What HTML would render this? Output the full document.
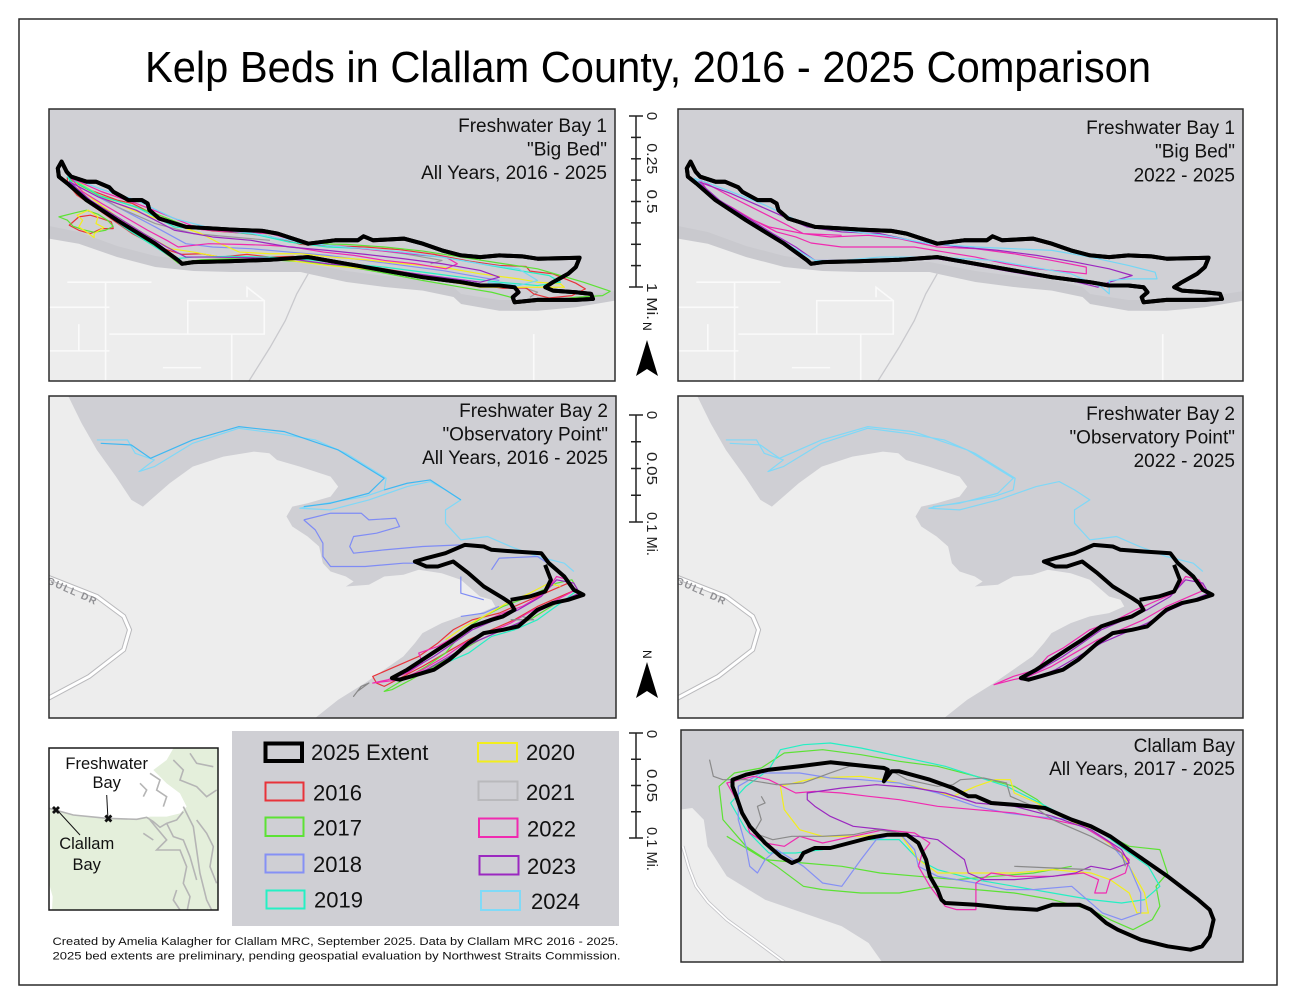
<!DOCTYPE html>
<html><head><meta charset="utf-8"><style>
html,body{margin:0;padding:0;background:#fff;}
svg{display:block;font-family:"Liberation Sans",Arial,sans-serif;}
.ln path{fill:none;stroke-width:1.2;vector-effect:non-scaling-stroke;stroke-linejoin:round;}
.rd path{fill:none;vector-effect:non-scaling-stroke;}
</style></head><body>
<svg width="1296" height="1001" viewBox="0 0 1296 1001" xmlns="http://www.w3.org/2000/svg">
<defs>
<clipPath id="c1"><rect x="49" y="109" width="566" height="272"/></clipPath>
<clipPath id="c2"><rect x="678" y="109" width="565" height="272"/></clipPath>
<clipPath id="c3"><rect x="49" y="396" width="567" height="322"/></clipPath>
<clipPath id="c4"><rect x="678" y="396" width="565" height="322"/></clipPath>
<clipPath id="c6"><rect x="681" y="730" width="562" height="232"/></clipPath>
<clipPath id="ci"><rect x="49" y="748" width="169" height="162"/></clipPath>

<g id="base1">
<rect x="49" y="109" width="566" height="272" fill="#d0d0d5"/>
<path d="M49,226 L78.8,232 L117,246 L155.3,256 L193.5,261 L231.7,262 L300.6,262 L346.4,271 L384.7,276 L422.9,280 L453.5,287 L461.1,294 L499.3,300 L537.6,300 L575.8,297 L615,291 L615,381 L49,381 Z" fill="#c9c9ce"/>
<path d="M49,238.6 L78.8,243.7 L117,257 L155.3,267 L193.5,271 L231.7,272 L270,272 L300.6,272 L308.2,273.8 L346.4,282 L384.7,287 L422.9,290.6 L453.5,297 L461.1,304 L499.3,310.7 L537.6,310.7 L575.8,307.3 L615,300.6 L615,381 L49,381 Z" fill="#ededed"/>
<g class="rd" transform="translate(40.59,99.62) scale(0.3823,0.335)">
<path d="M70,545 L290,545 M170,545 L170,840 M22,620 L180,620 M100,670 L100,750 M385,600 L585,600 L585,700 L385,700 Z M585,600 L540,560 L540,590 M500,700 L500,840 M180,700 L500,700 M320,800 L420,800 M1290,700 L1290,840 M22,750 L180,750" stroke="#fafafa" stroke-width="1.6"/>
<path d="M700,520 L670,580 L640,660 L600,740 L545,840" stroke="#c9c9cd" stroke-width="1.3"/>
</g>
<path d="M61.6,161.6 L66.6,171.6 L71.2,176.7 L86.5,181.7 L96,181.7 L109.4,187.4 L113.2,191.7 L128.5,200.1 L141.9,200.1 L147.6,203.5 L149.5,210.2 L159.1,218.5 L185.9,226.9 L231.7,229.6 L262.3,230.9 L277.6,233.6 L308.2,243.7 L335,240.3 L357.9,240.3 L363.6,236.3 L373.2,240.3 L403.8,238.6 L422.9,243.7 L442,250.4 L461.1,255.4 L480.2,257.1 L499.3,255.4 L522.3,256.4 L537.6,258.7 L579.6,257.7 L575.8,267.1 L568.2,273.8 L552.9,282.2 L545.2,287.2 L552.9,290.6 L575.8,292.2 L591.1,293.9 L593,298.9 L575.8,299.9 L537.6,299.9 L514.6,302.3 L512.7,297.3 L518.5,292.2 L514.6,287.2 L499.3,285.5 L480.2,285.5 L461.1,282.2 L422.9,277.2 L384.7,270.5 L346.4,263.8 L308.2,257.1 L270,259.8 L231.7,261.1 L193.5,262.1 L182,263.8 L178.2,260.4 L155.3,243.7 L117,220.2 L86.5,200.1 L67.4,183.4 L58.9,176.7 L57.8,168.3 Z" id="out1" fill="none" stroke="#000" stroke-width="4" stroke-linejoin="round"/>
</g>

<g id="base3">
<rect x="49" y="396" width="567" height="322" fill="#cfcfd4"/>
<path d="M49,396 L68.2,396 L81.6,423.3 L96.9,450 L116,476.6 L131.4,499.9 L142.9,506.6 L154.4,496.6 L169.7,483.2 L192.7,466.6 L223.3,456.6 L254,451.6 L269.3,453.3 L277,460 L299.9,466.6 L330.6,476.6 L338.2,486.6 L330.6,496.6 L307.6,503.2 L292.3,506.6 L286.5,516.5 L292.3,526.5 L307.6,536.5 L319.1,546.5 L322.9,563.2 L330.6,571.5 L345.9,576.5 L353.6,581.5 L345.9,586.5 L368.9,584.8 L384.2,576.5 L403.4,574.8 L418.7,569.8 L441.7,573.2 L460.8,579.8 L472.3,589.8 L480,596.5 L491.5,599.8 L495.3,606.5 L480,613.1 L460.8,616.4 L441.7,623.1 L422.5,633.1 L414.9,643.1 L403.4,656.4 L384.2,669.7 L365.1,683 L338.2,699.7 L315.2,718 L49,718 Z" fill="#ededed"/>
<path d="M40,574 L96.9,596.5 L123.7,616.4 L129.5,629.8 L123.7,649.7 L89.2,676.4 L45,700" fill="none" stroke="#b9b9bc" stroke-width="5"/>
<path d="M40,574 L96.9,596.5 L123.7,616.4 L129.5,629.8 L123.7,649.7 L89.2,676.4 L45,700" fill="none" stroke="#ffffff" stroke-width="3"/>
<text x="0" y="0" transform="translate(46,583) rotate(24)" font-size="10" fill="#8f8f93" letter-spacing="1.5" font-weight="bold">GULL DR</text>
</g>
</defs>

<rect x="0" y="0" width="1296" height="1001" fill="#fff"/>
<rect x="19" y="19" width="1258" height="966" fill="none" stroke="#2a2a2a" stroke-width="1.5"/>

<text x="648" y="82" text-anchor="middle" font-size="44" fill="#000" textLength="1006" lengthAdjust="spacingAndGlyphs">Kelp Beds in Clallam County, 2016 - 2025 Comparison</text>

<!-- Panel 1 -->
<g clip-path="url(#c1)">
<use href="#base1"/>
<g class="ln" transform="translate(40.59,99.62) scale(0.3823,0.335)">
<path stroke="#8590f5" d="M100,260 L200,320 L300,380 L380,430 L450,440 L550,445 L650,455 L750,465 L850,480 L950,495 L1050,510 L1150,530 L1200,540"/>
<path stroke="#999" d="M100,250 L200,320 L300,370 L400,400 L500,410 L600,420 M950,460 L1000,470 L1050,480 L1020,490 M1260,560 L1300,575 L1280,590"/>
<path stroke="#e8333a" d="M70,232 L130,270 L200,300 L240,310 L300,345 L380,380 L450,392 L520,398 L600,408 L680,432 L760,436 L850,440 L940,448 L1030,462 L1120,482 L1200,495 L1270,498 L1280,512 L1340,520 L1400,548 L1425,565 L1390,585 L1330,592 L1290,580 L1270,562 L1210,563 L1140,552 L1060,535 L980,520 L900,505 L820,492 L740,478 L660,468 L600,470 L540,462 L470,470 L420,460 L370,462 L330,448 L290,430 L240,400 L190,360 L140,320 L95,285 L70,250 Z M75,375 L100,350 L130,345 L160,355 L185,365 L190,385 L160,385 L130,400 L100,390 Z"/>
<path stroke="#5ce234" d="M75,238 L150,285 L220,310 L300,340 L400,385 L500,395 L620,402 L700,430 L800,432 L900,440 L1000,452 L1100,470 L1200,488 L1300,505 L1360,525 L1420,545 L1490,572 L1470,585 L1400,590 L1330,600 L1240,605 L1230,590 L1180,575 L1100,560 L1000,540 L900,518 L800,498 L700,485 L600,478 L500,475 L420,478 L360,488 L340,470 L290,430 L230,385 L170,340 L120,305 L85,270 Z M48,350 L90,338 L120,330 L150,342 L175,360 L190,378 L170,390 L140,396 L110,388 L85,378 L70,360 Z"/>
<path stroke="#f2ee1e" d="M90,240 L160,290 L240,330 L330,365 L420,400 L470,430 L520,455 L600,460 L680,460 L760,470 L850,478 L950,490 L1050,500 L1150,520 L1250,535 L1300,545 L1360,550 L1370,560 L1330,560 L1250,560 L1150,560 L1050,540 L950,520 L850,505 L750,495 L650,480 L560,470 L470,470 L400,455 L340,445 L270,400 L200,350 L140,300 L100,265 Z M95,345 L125,330 L150,350 L145,370 L165,382 L140,400 L140,412 L120,395 L100,380 L110,360 Z"/>
<path stroke="#24f0c4" d="M70,230 L160,290 L250,320 L350,380 L450,390 L560,402 L650,425 L750,440 L850,445 L950,460 L1050,470 L1150,490 L1250,510 L1330,525 L1360,545 L1300,555 L1200,545 L1100,530 L1000,515 L900,500 L800,490 L700,478 L600,470 L500,468 L400,470 L350,475 L300,440 L230,390 L170,340 L110,290 Z"/>
<path stroke="#f02ab0" d="M80,235 L160,275 L250,310 L340,350 L420,388 L500,395 L600,400 L700,430 L800,440 L880,450 L960,460 L1060,470 L1090,490 L1060,505 L980,490 L900,480 L820,465 L740,455 L660,440 L600,435 L520,432 L440,430 L360,440 L330,420 L280,390 L220,350 L160,310 L110,275 Z"/>
<path stroke="#9b28c0" d="M75,245 L150,290 L250,330 L350,390 L450,410 L550,420 L650,440 L750,450 L850,462 L950,475 L1050,490 L1150,510 L1200,530 L1150,545 L1050,530 L950,515 L850,500 L750,490 L650,475 L550,472 L450,470 L380,470 L330,440 L270,400 L200,350 L130,300 Z"/>
<path stroke="#74d7f5" d="M70,228 L160,268 L250,300 L350,355 L450,385 L560,400 L650,420 L750,435 L850,445 L950,455 L1050,470 L1150,490 L1250,505 L1300,540 L1250,555 L1170,545 L1180,560"/>
</g>
<use href="#out1"/>
</g>
<rect x="49" y="109" width="566" height="272" fill="none" stroke="#2d2d2d" stroke-width="1.5"/>
<g font-size="19" text-anchor="end" fill="#111">
<text x="607" y="132">Freshwater Bay 1</text>
<text x="607" y="155.5">"Big Bed"</text>
<text x="607" y="179">All Years, 2016 - 2025</text>
</g>

<!-- Panel 2 -->
<g clip-path="url(#c2)">
<use href="#base1" transform="translate(629,0)"/>
<g class="ln" transform="translate(669.59,99.62) scale(0.3823,0.335)">
<path stroke="#f02ab0" d="M80,240 L160,290 L230,330 L300,370 L350,400 L420,410 L520,405 L600,415 L700,440 L800,445 L900,460 L1000,480 L1090,500 L1090,520 L1050,515 L960,505 L880,490 L800,470 L720,455 L640,440 L540,440 L450,440 L370,428 L330,410 L280,395 L220,360 L160,320 L110,290 Z M200,350 L260,380 L350,400 L450,405"/>
<path stroke="#9b28c0" d="M75,245 L160,280 L260,330 L360,380 L450,395 L550,400 L650,425 L760,440 L860,450 L960,465 L1060,485 L1150,505 L1210,525 L1150,545 L1120,560 L1050,540 L950,525 L850,505 L780,490 L740,482 L700,475 L600,480 L500,480 L380,480 L330,440 L270,400 L200,350 L130,300 Z"/>
<path stroke="#74d7f5" d="M65,235 L150,270 L250,315 L350,370 L450,390 L560,405 L680,430 L800,440 L900,445 L1000,450 L1100,470 L1200,495 L1270,515 L1275,535 L1200,535 L1150,540 L1150,580 L1130,560 L1050,520 L950,500 L850,480 L700,470 L550,470 L450,480 L380,480 L320,440 L250,390 L180,350 L120,300 Z"/>
</g>
<use href="#out1" transform="translate(629,0)"/>
</g>
<rect x="678" y="109" width="565" height="272" fill="none" stroke="#2d2d2d" stroke-width="1.5"/>
<g font-size="19" text-anchor="end" fill="#111">
<text x="1235" y="134">Freshwater Bay 1</text>
<text x="1235" y="157.5">"Big Bed"</text>
<text x="1235" y="181.5">2022 - 2025</text>
</g>

<!-- Panel 3 -->
<g clip-path="url(#c3)">
<use href="#base3"/>
<g class="ln" transform="translate(39.42,390.01) scale(0.3831,0.333)">
<path stroke="#7fd8f7" d="M150,150 L230,150 L250,190 L300,210 L260,245 L300,230 L400,160 L520,115 L620,130 L720,150 L800,190 L870,240 L905,265 L900,300 L850,320 L700,350 L680,355 L760,360 L860,330 L960,290 L1020,275 L1060,300 L1100,330 L1060,360 L1060,400 L1100,450 L1170,440 L1230,470 L1300,500 L1370,520 L1395,545"/>
<path stroke="#3fb8f2" d="M160,160 L240,165 L290,205 L400,150 L520,110 L640,125 L780,180 L900,265 L860,310 L760,340 L690,350 M900,300 L960,280 L1020,270 L1100,330"/>
<path stroke="#7f8cf5" d="M690,390 L760,370 L840,370 L860,390 L930,385 L940,410 L880,430 L820,440 L810,470 L820,490 L900,480 L1000,470 L1100,465 M690,390 L720,420 L740,460 L740,500 L760,530 L850,530 L950,520 L1000,520 M1100,560 L1100,610 L1160,630 M1180,540 L1200,505 L1300,500 L1340,530 M1100,680 L1160,670 L1200,650"/>
<path stroke="#e8333a" d="M870,860 L930,830 L990,800 L1040,760 L1080,720 L1130,690 L1200,670 L1260,640 L1340,600 L1380,580 L1400,600 L1360,620 L1300,650 L1240,690 L1180,720 L1120,750 L1060,790 L1000,830 L950,860 L900,890 L880,880 Z"/>
<path stroke="#5ce234" d="M900,905 L950,870 L1010,830 L1060,790 L1110,720 L1160,680 L1210,650 L1280,620 L1350,580 L1390,570 L1410,610 L1350,640 L1280,690 L1210,720 L1150,750 L1090,790 L1030,830 L970,870 L920,900 Z"/>
<path stroke="#f2ee1e" d="M1060,750 L1110,710 L1160,680 L1220,640 L1280,610 L1330,580 L1360,590"/>
<path stroke="#24f0c4" d="M1000,850 L1060,820 L1120,790 L1180,740 L1240,720 L1300,690 L1360,640 L1400,605"/>
<path stroke="#f02ab0" d="M870,880 L910,870 L960,850 L1000,820 L990,790 L1040,770 L1100,730 L1150,700 L1210,670 L1260,650 L1320,610 L1350,560 L1380,570 L1400,600 L1350,630 L1290,660 L1230,700 L1170,730 L1110,760 L1060,800 L1000,840 L940,870 Z"/>
<path stroke="#9b28c0" d="M920,870 L970,840 L1030,800 L1080,760 L1130,720 L1190,690 L1250,660 L1310,620 L1350,570 L1395,580 L1410,610 L1370,630 L1310,660 L1250,700 L1190,730 L1130,760 L1070,800 L1010,840 L950,870 Z"/>
<path stroke="#888" d="M820,920 L840,890 L860,880 L830,905 Z M1230,690 L1290,690 L1260,680"/>
</g>
<g fill="none" stroke="#000" stroke-width="4" stroke-linejoin="round" id="out3">
<path d="M414.9,561.5 L426.4,558.2 L445.5,553.2 L464.7,544.9 L483.8,546.5 L491.5,549.8 L514.5,551.5 L541.3,553.2 L548.9,563.2 L564.3,576.5 L573.8,589.8 L583.4,594.8 L568.1,599.8 L552.8,603.1 L537.5,609.8 L526,619.8 L518.3,626.4 L503,629.8 L483.8,633.1 L468.5,643.1 L457,653.1 L449.3,659.7 L434,669.7 L411,676.4 L399.5,679.7 L391.9,678 L407.2,669.7 L422.5,659.7 L437.8,649.7 L453.2,639.8 L472.3,626.4 L491.5,619.8 L503,616.4 L514.5,609.8 L510.6,603.1 L503,598.1 L483.8,586.5 L468.5,573.2 L453.2,561.5 L437.8,566.5 L426.4,566.5 L418.7,563.2 Z"/>
<path d="M510.6,599.8 L529.8,596.5 L545.1,591.5 L550.9,579.8 L545.1,564.9"/>
</g>
</g>
<rect x="49" y="396" width="567" height="322" fill="none" stroke="#2d2d2d" stroke-width="1.5"/>
<g font-size="19" text-anchor="end" fill="#111">
<text x="608" y="417">Freshwater Bay 2</text>
<text x="608" y="440.5">"Observatory Point"</text>
<text x="608" y="464">All Years, 2016 - 2025</text>
</g>

<!-- Panel 4 -->
<g clip-path="url(#c4)">
<use href="#base3" transform="translate(629,0)"/>
<g class="ln" transform="translate(668.42,390.01) scale(0.3831,0.333)">
<path stroke="#7fd8f7" d="M150,150 L230,150 L250,190 L300,210 L260,245 L300,230 L400,160 L520,115 L620,130 L720,150 L800,190 L870,240 L905,265 L900,300 L850,320 L700,350 L680,355 L760,360 L860,330 L960,290 L1020,275 L1060,300 L1100,330 L1060,360 L1060,400 L1100,450 L1170,440 L1230,470 L1300,500 L1370,520 L1395,545 M160,160 L240,165 L290,205 L400,150 L520,110 L640,125 L780,180 L900,265 L860,310 L760,340 L690,350"/>
<path stroke="#f02ab0" d="M850,885 L900,860 L960,840 L990,800 L1030,775 L1100,720 L1170,690 L1220,660 L1260,640 L1320,610 L1350,560 L1385,570 L1400,600 L1360,620 L1300,650 L1240,690 L1180,720 L1120,750 L1060,790 L1000,830 L940,860 L900,870 Z"/>
<path stroke="#9b28c0" d="M920,870 L970,840 L1030,800 L1080,760 L1130,720 L1190,690 L1250,660 L1310,620 L1350,570 L1395,580 L1410,610 L1370,630 L1310,660 L1250,700 L1190,730 L1130,760 L1070,800 L1010,840 L950,870 Z"/>
</g>
<use href="#out3" transform="translate(629,0)"/>
</g>
<rect x="678" y="396" width="565" height="322" fill="none" stroke="#2d2d2d" stroke-width="1.5"/>
<g font-size="19" text-anchor="end" fill="#111">
<text x="1235" y="420">Freshwater Bay 2</text>
<text x="1235" y="443.5">"Observatory Point"</text>
<text x="1235" y="467">2022 - 2025</text>
</g>

<!-- Panel 6 Clallam Bay -->
<g clip-path="url(#c6)">
<rect x="681" y="730" width="562" height="232" fill="#cfcfd4"/>
<path d="M680,809.7 L692.3,808 L703.8,819.7 L707.6,846.3 L726.8,876.3 L765.1,899.7 L803.4,913 L841.8,926.3 L868.6,943 L882,962 L680,962 Z" fill="#ededed"/>
<path d="M682.7,846.3 L689,868 L696.1,886.3 L708,902 L726.8,919.7 L752,938 L784.3,962" fill="none" stroke="#c4c4c8" stroke-width="3.5"/>
<path d="M682.7,846.3 L689,868 L696.1,886.3 L708,902 L726.8,919.7 L752,938 L784.3,962" fill="none" stroke="#fff" stroke-width="1.8"/>
<g class="ln" transform="translate(669.27,719.67) scale(0.3833,0.3333)">
<path stroke="#5ce234" d="M130,200 L170,160 L240,145 L300,100 L400,90 L500,105 L600,125 L700,140 L800,170 L900,200 L960,240 L1000,280 L1100,320 L1200,380 L1280,390 L1300,460 L1270,500 L1280,560 L1260,600 L1210,630 L1150,600 L1100,570 L1000,540 L900,520 L800,510 L700,500 L600,520 L500,520 L400,510 L350,500 L280,440 L200,380 L140,300 Z M150,350 L250,420 L350,430 L450,440 L550,460 L650,470 L750,480 L850,470 L950,460 L1050,440"/>
<path stroke="#24f0c4" d="M290,90 L350,75 L420,70 L500,85 L560,100 L640,120 L720,140 L800,170 L880,200 L950,240 L1050,300 L1130,340 L1200,400 L1250,440 L1280,500 L1240,540 L1180,550 L1100,540 L1000,520 L900,500 L800,480 L700,450 L650,420 L600,360 L500,360 L400,390 L330,400 L260,400 L200,330 L160,250 L200,200 L260,150 Z"/>
<path stroke="#f2ee1e" d="M290,200 L380,175 L500,170 L560,180 L640,200 L740,230 L800,200 L850,180 L890,180 L900,220 L960,250 L1000,280 L1100,330 L1180,400 L1200,440 L1220,480 L1240,520 L1250,580 L1220,580 L1200,520 L1150,480 L1100,460 L1000,450 L900,460 L800,460 L700,460 L650,420 L600,340 L500,350 L400,350 L340,330 L300,270 Z"/>
<path stroke="#8590f5" d="M180,200 L240,160 L340,160 L420,175 L500,180 L600,190 L700,220 L800,260 L880,280 L950,290 L1050,300 L1150,370 L1200,440 L1230,520 L1230,580 L1180,600 L1130,580 L1050,500 L950,510 L880,510 L800,490 L700,470 L650,440 L640,390 L600,340 L540,360 L500,420 L450,500 L400,490 L350,440 L280,390 L250,420 L230,460 L210,440 L200,380 L180,300 Z"/>
<path stroke="#f02ab0" d="M150,190 L220,170 L260,180 L330,220 L380,215 L450,220 L520,230 L600,240 L700,260 L800,270 L900,280 L1000,300 L1080,320 L1150,370 L1200,420 L1190,460 L1150,480 L1140,520 L1110,520 L1120,480 L1080,460 L1000,470 L900,470 L840,460 L800,490 L800,570 L750,570 L720,560 L680,500 L650,440 L660,400 L680,370 L640,340 L560,330 L480,350 L400,370 L340,350 L300,380 L250,370 L210,340 L200,300 L180,250 Z"/>
<path stroke="#9b28c0" d="M360,220 L450,205 L540,195 L640,205 L720,220 L800,250 L900,260 L1000,290 L1100,330 L1180,390 L1200,430 L1150,450 L1100,440 L1060,460 L1000,470 L900,480 L820,480 L780,460 L770,420 L700,360 L620,345 L560,330 L480,320 L420,290 L380,260 L360,240 Z"/>
<path stroke="#8a8a8a" d="M105,120 L115,170 L140,180 L200,180 L280,195 L350,190 L420,160 L470,140 L560,140 L620,180 L700,200 L740,195 L760,180 L820,175 L880,190 L890,230 L950,260 L1000,300 L1100,350 L1180,400 L1190,440 M240,230 L250,250 L230,260 L240,300 L220,340 L270,360 L320,350 L400,350 L480,345 L540,330 L600,340 L640,360 M900,440 L1000,445 L1100,450"/>
</g>
<path d="M732.5,779.7 L745.9,774.7 L768.9,769.7 L799.6,766.3 L830.3,762.3 L853.3,764.7 L883.9,768 L887.7,769.7 L883.9,781.3 L891.6,771.3 L899.2,771.3 L929.9,779.7 L952.9,788 L968.2,796.3 L975.9,796.3 L991.2,803 L1014.2,804.7 L1044.9,808 L1071.7,819.7 L1090.9,826.3 L1110.1,836.3 L1129.2,849.7 L1148.4,863 L1167.6,876.3 L1198.2,899.7 L1209.7,909.7 L1213.6,919.7 L1209.7,936.3 L1202.1,946.3 L1190.6,949.7 L1167.6,946.3 L1140.7,939.7 L1117.7,929.7 L1106.2,923 L1090.9,909.7 L1079.4,904.7 L1052.6,904.7 L1037.2,909.7 L1006.6,908 L975.9,904.7 L945.2,903 L941.4,899.7 L937.6,889.7 L929.9,876.3 L926.1,859.7 L918.4,843 L906.9,834.7 L887.7,834.7 L868.6,838 L849.4,843 L830.3,848 L814.9,848 L803.4,853 L799.6,859.7 L791.9,863 L780.4,856.3 L765.1,843 L749.8,826.3 L742.1,813 L736.3,796.3 L732.5,786.3 Z" fill="none" stroke="#000" stroke-width="4" stroke-linejoin="round"/>
</g>
<rect x="681" y="730" width="562" height="232" fill="none" stroke="#2d2d2d" stroke-width="1.5"/>
<g font-size="19" text-anchor="end" fill="#111">
<text x="1235" y="752">Clallam Bay</text>
<text x="1235" y="775">All Years, 2017 - 2025</text>
</g>

<!-- Scale bars -->
<g stroke="#222" stroke-width="1.5">
<line x1="636" y1="116" x2="636" y2="287"/>
<line x1="629" y1="116" x2="643" y2="116"/><line x1="629" y1="287" x2="643" y2="287"/>
<line x1="631" y1="137.4" x2="641" y2="137.4"/><line x1="631" y1="158.8" x2="641" y2="158.8"/><line x1="631" y1="180.1" x2="641" y2="180.1"/><line x1="631" y1="201.5" x2="641" y2="201.5"/><line x1="631" y1="222.9" x2="641" y2="222.9"/><line x1="631" y1="244.3" x2="641" y2="244.3"/><line x1="631" y1="265.6" x2="641" y2="265.6"/>
<line x1="636" y1="415" x2="636" y2="522"/>
<line x1="629" y1="415" x2="643" y2="415"/><line x1="629" y1="522" x2="643" y2="522"/>
<line x1="631" y1="441.75" x2="641" y2="441.75"/><line x1="631" y1="468.5" x2="641" y2="468.5"/><line x1="631" y1="495.25" x2="641" y2="495.25"/>
<line x1="636" y1="733" x2="636" y2="838"/>
<line x1="629" y1="733" x2="643" y2="733"/><line x1="629" y1="838" x2="643" y2="838"/>
<line x1="631" y1="759.25" x2="641" y2="759.25"/><line x1="631" y1="785.5" x2="641" y2="785.5"/><line x1="631" y1="811.75" x2="641" y2="811.75"/>
</g>
<g font-size="15" fill="#222" lengthAdjust="spacingAndGlyphs">
<text transform="translate(647,116) rotate(90)" text-anchor="middle">0</text>
<text transform="translate(647,158.8) rotate(90)" text-anchor="middle" textLength="31" lengthAdjust="spacingAndGlyphs">0.25</text>
<text transform="translate(647,201.5) rotate(90)" text-anchor="middle" textLength="24" lengthAdjust="spacingAndGlyphs">0.5</text>
<text transform="translate(647,283) rotate(90)" textLength="37" lengthAdjust="spacingAndGlyphs">1 Mi.</text>
<text transform="translate(647,415) rotate(90)" text-anchor="middle">0</text>
<text transform="translate(647,468.5) rotate(90)" text-anchor="middle" textLength="33" lengthAdjust="spacingAndGlyphs">0.05</text>
<text transform="translate(647,512) rotate(90)" textLength="44" lengthAdjust="spacingAndGlyphs">0.1 Mi.</text>
<text transform="translate(647,734) rotate(90)" text-anchor="middle">0</text>
<text transform="translate(647,785.5) rotate(90)" text-anchor="middle" textLength="33" lengthAdjust="spacingAndGlyphs">0.05</text>
<text transform="translate(647,827) rotate(90)" textLength="44" lengthAdjust="spacingAndGlyphs">0.1 Mi.</text>
</g>

<!-- North arrows -->
<text transform="translate(643,322) rotate(90)" font-size="12" fill="#111">N</text>
<path d="M647,340 L658,376 L647,369 L636,376 Z" fill="#000"/>
<text transform="translate(643,650) rotate(90)" font-size="12" fill="#111">N</text>
<path d="M647,662 L658,698 L647,691 L636,698 Z" fill="#000"/>

<!-- Inset map -->
<g clip-path="url(#ci)">
<rect x="49" y="748" width="169" height="162" fill="#e4efdb"/>
<g transform="translate(40,740) scale(0.3333)">
<path d="M27,25 L400,25 L380,60 L340,90 L380,130 L420,160 L440,200 L420,220 L380,230 L330,230 L290,238 L200,235 L100,225 L27,205 Z M27,430 L38,470 L36,510 L27,515 Z" fill="#ffffff"/>
<g class="rd">
<path d="M27,205 L100,225 L200,235 L290,238 L320,232 L340,245 L360,262 L380,250 L410,240 L430,215 M330,240 L380,300 L350,330 L420,330 L440,380 L430,430 L450,470 L440,520 M430,200 L460,260 L470,330 L480,400 L500,480 L520,520 M380,250 L400,290 L430,300 L450,350 L470,420 M310,280 L340,300 M400,60 L430,90 L420,120 L470,140 L500,170 L530,150 M450,40 L470,70 L520,80 M330,100 L360,120 L350,150 L380,170 L370,200 M300,130 L320,150 L310,170 M470,240 L500,280 L520,320 L510,380 L530,430 M410,450 L400,480 L420,510" stroke="#b5b5b5" stroke-width="1.6" fill="none"/>
</g>
</g>
<path d="M106.7,795 L107.8,816" stroke="#111" stroke-width="1"/>
<path d="M58,811 L80,835" stroke="#111" stroke-width="1"/>
<text x="108.3" y="822.5" text-anchor="middle" font-size="11" font-weight="bold" fill="#111">✖</text>
<text x="56" y="814" text-anchor="middle" font-size="11" font-weight="bold" fill="#111">✖</text>
<g font-size="16.5" fill="#111" text-anchor="middle">
<text x="106.7" y="769">Freshwater</text>
<text x="106.7" y="788">Bay</text>
<text x="86.7" y="849">Clallam</text>
<text x="86.7" y="870">Bay</text>
</g>
</g>
<rect x="49" y="748" width="169" height="162" fill="none" stroke="#1a1a1a" stroke-width="1.5"/>

<!-- Legend -->
<rect x="232" y="731" width="387" height="195" fill="#cfcfd4"/>
<g fill="none" stroke-width="2">
<rect x="265.5" y="743.5" width="36.5" height="17.5" stroke="#000" stroke-width="4"/>
<rect x="265.5" y="782.5" width="38" height="18" stroke="#e8333a"/>
<rect x="265.5" y="817.5" width="38" height="18.5" stroke="#5ce234"/>
<rect x="265.5" y="854.5" width="38" height="18" stroke="#8590f5"/>
<rect x="266.5" y="890.5" width="38" height="18" stroke="#24f0c4"/>
<rect x="478" y="743" width="39" height="18.5" stroke="#f2ee1e"/>
<rect x="478.5" y="781.5" width="39" height="18.5" stroke="#b9b9bc"/>
<rect x="479" y="818.5" width="38.5" height="18.5" stroke="#f02ab0"/>
<rect x="479.5" y="856" width="39" height="18.5" stroke="#9b28c0"/>
<rect x="481" y="891" width="39" height="19" stroke="#80daf7"/>
</g>
<g font-size="22" fill="#111">
<text x="311" y="760">2025 Extent</text>
<text x="313" y="800.5">2016</text>
<text x="313" y="835.5">2017</text>
<text x="313" y="872">2018</text>
<text x="314" y="907.5">2019</text>
<text x="526" y="760">2020</text>
<text x="526" y="800">2021</text>
<text x="527" y="836.5">2022</text>
<text x="527" y="874">2023</text>
<text x="531" y="909">2024</text>
</g>

<!-- Credits -->
<g font-size="11" fill="#111">
<text x="52.5" y="945" textLength="566" lengthAdjust="spacingAndGlyphs">Created by Amelia Kalagher for Clallam MRC, September 2025. Data by Clallam MRC 2016 - 2025.</text>
<text x="52.5" y="959.5" textLength="568" lengthAdjust="spacingAndGlyphs">2025 bed extents are preliminary, pending geospatial evaluation by Northwest Straits Commission.</text>
</g>
</svg>
</body></html>
